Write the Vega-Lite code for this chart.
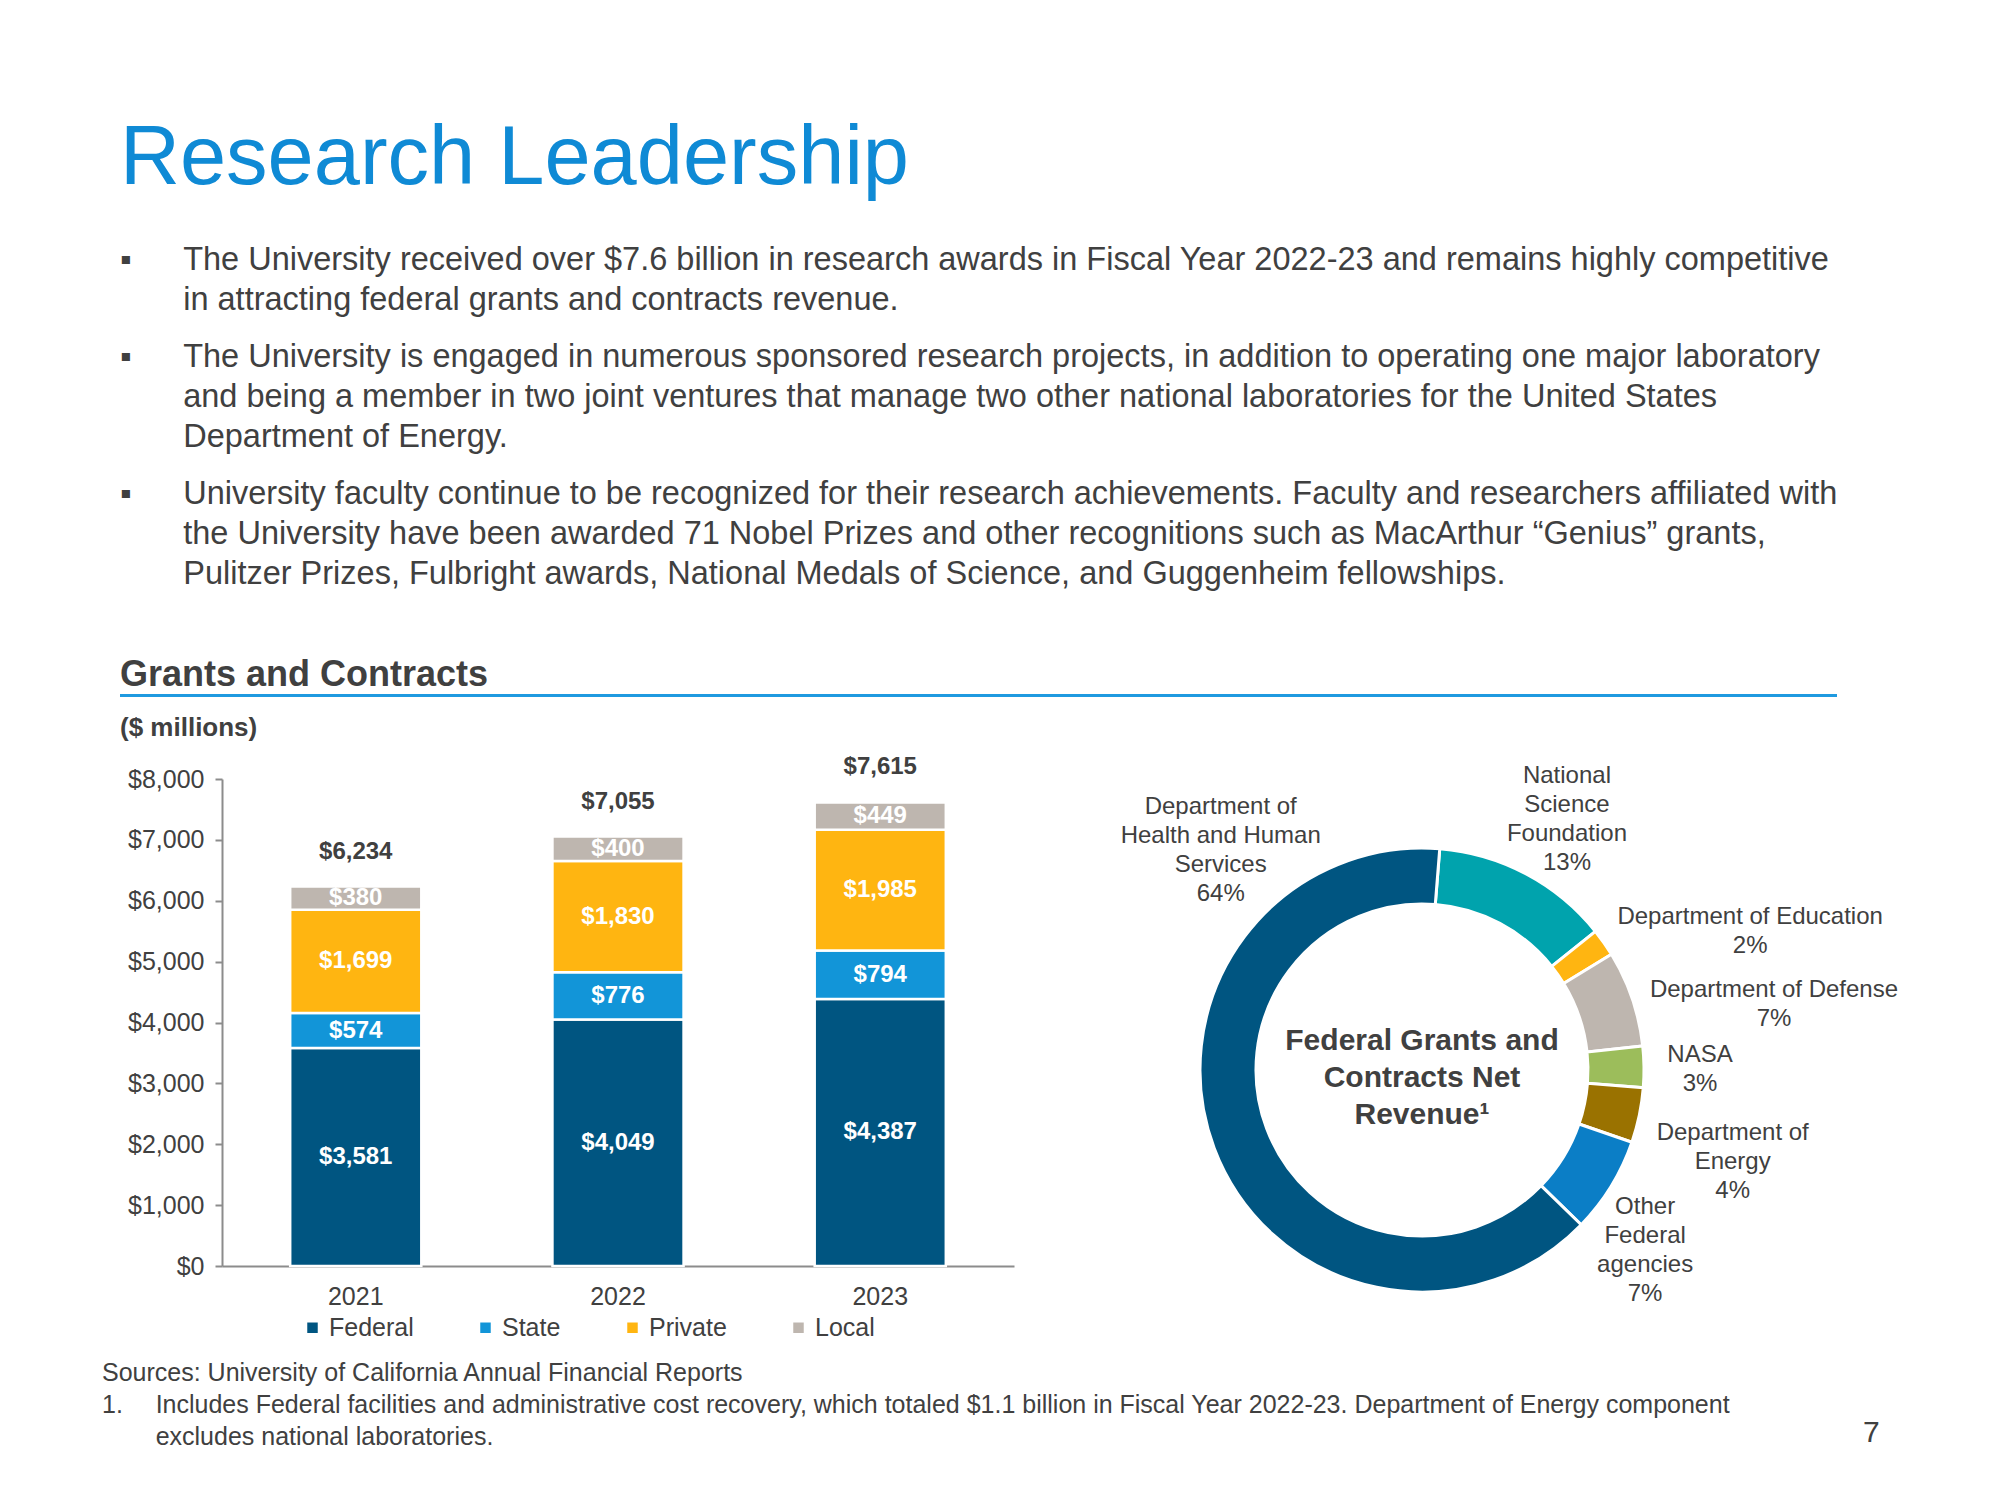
{
  "$schema": "https://vega.github.io/schema/vega-lite/v6.json",
  "background": "white",
  "padding": {"left": 102, "top": 117, "right": 10, "bottom": 10},
  "config": {
    "font": "Liberation Sans",
    "view": {"stroke": null}
  },
  "datasets": {
    "grants": [
      {"year": "2021", "source": "Federal", "value": 3581, "rank": 1},
      {"year": "2021", "source": "State", "value": 574, "rank": 2},
      {"year": "2021", "source": "Private", "value": 1699, "rank": 3},
      {"year": "2021", "source": "Local", "value": 380, "rank": 4},
      {"year": "2022", "source": "Federal", "value": 4049, "rank": 1},
      {"year": "2022", "source": "State", "value": 776, "rank": 2},
      {"year": "2022", "source": "Private", "value": 1830, "rank": 3},
      {"year": "2022", "source": "Local", "value": 400, "rank": 4},
      {"year": "2023", "source": "Federal", "value": 4387, "rank": 1},
      {"year": "2023", "source": "State", "value": 794, "rank": 2},
      {"year": "2023", "source": "Private", "value": 1985, "rank": 3},
      {"year": "2023", "source": "Local", "value": 449, "rank": 4}
    ],
    "federal": [
      {"agency": "National Science Foundation", "label": "National\nScience\nFoundation\n13%", "pct": 13, "rank": 1},
      {"agency": "Department of Education", "label": "Department of Education\n2%", "pct": 2, "rank": 2},
      {"agency": "Department of Defense", "label": "Department of Defense\n7%", "pct": 7, "rank": 3},
      {"agency": "NASA", "label": "NASA\n3%", "pct": 3, "rank": 4},
      {"agency": "Department of Energy", "label": "Department of\nEnergy\n4%", "pct": 4, "rank": 5},
      {"agency": "Other Federal agencies", "label": "Other\nFederal\nagencies\n7%", "pct": 7, "rank": 6},
      {"agency": "Department of Health and Human Services", "label": "Department of\nHealth and Human\nServices\n64%", "pct": 64, "rank": 7}
    ],
    "none": []
  },
  "title": {
    "text": "Research Leadership",
    "subtitle": [
      "▪\u00a0\u00a0\u00a0\u00a0\u00a0\u2009The University received over $7.6 billion in research awards in Fiscal Year 2022-23 and remains highly competitive",
      "\u200b\u00a0\u00a0\u00a0\u00a0\u00a0\u00a0\u00a0in attracting federal grants and contracts revenue."
    ],
    "anchor": "start",
    "frame": "bounds",
    "dx": 18,
    "baseline": "top",
    "fontSize": 83,
    "fontWeight": "normal",
    "color": "#0f8ad5",
    "subtitleFontSize": 32.5,
    "subtitleColor": "#404040",
    "subtitleLineHeight": 40,
    "subtitlePadding": 43,
    "offset": 25
  },
  "vconcat": [
    {
      "title": {
        "text": [
          "▪\u00a0\u00a0\u00a0\u00a0\u00a0\u2009The University is engaged in numerous sponsored research projects, in addition to operating one major laboratory",
          "\u200b\u00a0\u00a0\u00a0\u00a0\u00a0\u00a0\u00a0and being a member in two joint ventures that manage two other national laboratories for the United States",
          "\u200b\u00a0\u00a0\u00a0\u00a0\u00a0\u00a0\u00a0Department of Energy."
        ],
        "anchor": "start",
        "frame": "bounds",
        "dx": 18,
        "baseline": "top",
        "fontSize": 32.5,
        "fontWeight": "normal",
        "color": "#404040",
        "lineHeight": 40,
        "offset": 24
      },
      "vconcat": [
        {
          "title": {
            "text": [
              "▪\u00a0\u00a0\u00a0\u00a0\u00a0\u2009University faculty continue to be recognized for their research achievements. Faculty and researchers affiliated with",
              "\u200b\u00a0\u00a0\u00a0\u00a0\u00a0\u00a0\u00a0the University have been awarded 71 Nobel Prizes and other recognitions such as MacArthur “Genius” grants,",
              "\u200b\u00a0\u00a0\u00a0\u00a0\u00a0\u00a0\u00a0Pulitzer Prizes, Fulbright awards, National Medals of Science, and Guggenheim fellowships."
            ],
            "anchor": "start",
            "frame": "bounds",
            "dx": 18,
            "baseline": "top",
            "fontSize": 32.5,
            "fontWeight": "normal",
            "color": "#404040",
            "lineHeight": 40,
            "offset": 67
          },
          "spacing": 17,
          "vconcat": [
            {
              "spacing": 17,
              "hconcat": [
                {"width": 1, "height": 1, "data": {"name": "none"}, "mark": "point"},
                {
                  "width": 1717,
                  "height": 3,
                  "title": {
                    "text": "Grants and Contracts",
                    "anchor": "start",
                    "baseline": "alphabetic",
                    "fontSize": 36,
                    "fontWeight": "bold",
                    "color": "#404040",
                    "offset": -28
                  },
                  "view": {"fill": "#1f9ae0", "stroke": null},
                  "data": {"name": "none"},
                  "mark": "point"
                }
              ]
            },
            {
              "spacing": 20,
              "vconcat": [
                {
                  "spacing": 17,
                  "hconcat": [
                    {"width": 1, "height": 1, "data": {"name": "none"}, "mark": "point"},
                    {
                      "spacing": 25,
                      "resolve": {"scale": {"color": "independent"}, "legend": {"color": "independent"}},
                      "hconcat": [
                        {
                          "width": 792,
                          "height": 487,
                          "title": {
                            "text": "($ millions)",
                            "anchor": "start",
                            "frame": "bounds",
                            "baseline": "alphabetic",
                            "fontSize": 26,
                            "fontWeight": "bold",
                            "color": "#404040",
                            "offset": -6.5
                          },
                          "data": {"name": "grants"},
                          "encoding": {
                            "x": {
                              "field": "year",
                              "type": "ordinal",
                              "scale": {"paddingInner": 0.5, "paddingOuter": 0.26},
                              "axis": {
                                "title": null,
                                "labelAngle": 0,
                                "ticks": false,
                                "domainColor": "#8c8c8c",
                                "domainWidth": 2,
                                "labelFontSize": 25,
                                "labelColor": "#404040",
                                "labelPadding": 18
                              }
                            }
                          },
                          "layer": [
                            {
                              "mark": {"type": "bar", "stroke": "white", "strokeWidth": 2.5},
                              "encoding": {
                                "y": {
                                  "field": "value",
                                  "type": "quantitative",
                                  "stack": "zero",
                                  "scale": {"domain": [0, 8000]},
                                  "axis": {
                                    "title": null,
                                    "values": [0, 1000, 2000, 3000, 4000, 5000, 6000, 7000, 8000],
                                    "format": "$,d",
                                    "grid": false,
                                    "domainColor": "#8c8c8c",
                                    "domainWidth": 2,
                                    "tickColor": "#8c8c8c",
                                    "tickWidth": 2,
                                    "tickSize": 7,
                                    "labelFontSize": 25,
                                    "labelColor": "#404040",
                                    "labelPadding": 11,
                                    "minExtent": 102
                                  }
                                },
                                "color": {
                                  "field": "source",
                                  "type": "nominal",
                                  "scale": {
                                    "domain": ["Federal", "State", "Private", "Local"],
                                    "range": ["#005581", "#1295d8", "#ffb511", "#beb6af"]
                                  },
                                  "legend": {
                                    "orient": "none",
                                    "legendX": 78,
                                    "legendY": 536,
                                    "direction": "horizontal",
                                    "title": null,
                                    "symbolType": "square",
                                    "symbolSize": 110,
                                    "symbolStrokeWidth": 0,
                                    "labelFontSize": 25,
                                    "labelColor": "#404040",
                                    "columnPadding": 59
                                  }
                                },
                                "order": {"field": "rank", "type": "quantitative"}
                              }
                            },
                            {
                              "mark": {"type": "text", "color": "white", "fontWeight": "bold", "fontSize": 24, "baseline": "middle"},
                              "encoding": {
                                "y": {"field": "value", "type": "quantitative", "stack": "zero", "bandPosition": 0.5},
                                "detail": {"field": "source"},
                                "order": {"field": "rank", "type": "quantitative"},
                                "text": {"field": "value", "type": "quantitative", "format": "$,d"}
                              }
                            },
                            {
                              "mark": {"type": "text", "color": "#404040", "fontWeight": "bold", "fontSize": 24, "baseline": "middle", "dy": -35},
                              "encoding": {
                                "y": {"aggregate": "sum", "field": "value", "type": "quantitative"},
                                "text": {"aggregate": "sum", "field": "value", "type": "quantitative", "format": "$,d"}
                              }
                            }
                          ]
                        },
                        {
                          "width": 766,
                          "height": 540,
                          "data": {"name": "federal"},
                          "layer": [
                            {
                              "mark": {"type": "arc", "innerRadius": 166, "outerRadius": 222, "stroke": "white", "strokeWidth": 3, "yOffset": 21},
                              "encoding": {
                                "theta": {"field": "pct", "type": "quantitative", "stack": true, "scale": {"range": [0.08, 6.3632]}},
                                "order": {"field": "rank", "type": "quantitative"},
                                "color": {
                                  "field": "agency",
                                  "type": "nominal",
                                  "scale": {
                                    "domain": ["National Science Foundation", "Department of Education", "Department of Defense", "NASA", "Department of Energy", "Other Federal agencies", "Department of Health and Human Services"],
                                    "range": ["#00a3ad", "#ffb511", "#beb6af", "#9cbd5b", "#9a7200", "#0b7ec6", "#005581"]
                                  },
                                  "legend": null
                                }
                              }
                            },
                            {
                              "mark": {"type": "text", "radius": 289, "thetaOffset": 0.037, "yOffset": 21, "dy": -43.5, "fontSize": 24, "color": "#404040", "lineBreak": "\n", "lineHeight": 29, "align": "center", "baseline": "middle"},
                              "encoding": {
                                "theta": {"field": "pct", "type": "quantitative", "stack": true, "scale": {"range": [0.08, 6.3632]}},
                                "order": {"field": "rank", "type": "quantitative"},
                                "text": {"field": "label", "type": "nominal", "condition": {"test": "datum.rank !== 1", "value": ""}}
                              }
                            },
                            {
                              "mark": {"type": "text", "radius": 356, "thetaOffset": 0.213, "yOffset": 21, "dy": -14.5, "fontSize": 24, "color": "#404040", "lineBreak": "\n", "lineHeight": 29, "align": "center", "baseline": "middle"},
                              "encoding": {
                                "theta": {"field": "pct", "type": "quantitative", "stack": true, "scale": {"range": [0.08, 6.3632]}},
                                "order": {"field": "rank", "type": "quantitative"},
                                "text": {"field": "label", "type": "nominal", "condition": {"test": "datum.rank !== 2", "value": ""}}
                              }
                            },
                            {
                              "mark": {"type": "text", "radius": 358, "thetaOffset": 0.145, "yOffset": 21, "dy": -14.5, "fontSize": 24, "color": "#404040", "lineBreak": "\n", "lineHeight": 29, "align": "center", "baseline": "middle"},
                              "encoding": {
                                "theta": {"field": "pct", "type": "quantitative", "stack": true, "scale": {"range": [0.08, 6.3632]}},
                                "order": {"field": "rank", "type": "quantitative"},
                                "text": {"field": "label", "type": "nominal", "condition": {"test": "datum.rank !== 3", "value": ""}}
                              }
                            },
                            {
                              "mark": {"type": "text", "radius": 278, "thetaOffset": 0.014, "yOffset": 21, "dy": -14.5, "fontSize": 24, "color": "#404040", "lineBreak": "\n", "lineHeight": 29, "align": "center", "baseline": "middle"},
                              "encoding": {
                                "theta": {"field": "pct", "type": "quantitative", "stack": true, "scale": {"range": [0.08, 6.3632]}},
                                "order": {"field": "rank", "type": "quantitative"},
                                "text": {"field": "label", "type": "nominal", "condition": {"test": "datum.rank !== 4", "value": ""}}
                              }
                            },
                            {
                              "mark": {"type": "text", "radius": 324, "thetaOffset": 0.082, "yOffset": 21, "dy": -29, "fontSize": 24, "color": "#404040", "lineBreak": "\n", "lineHeight": 29, "align": "center", "baseline": "middle"},
                              "encoding": {
                                "theta": {"field": "pct", "type": "quantitative", "stack": true, "scale": {"range": [0.08, 6.3632]}},
                                "order": {"field": "rank", "type": "quantitative"},
                                "text": {"field": "label", "type": "nominal", "condition": {"test": "datum.rank !== 5", "value": ""}}
                              }
                            },
                            {
                              "mark": {"type": "text", "radius": 287, "thetaOffset": 0.129, "yOffset": 21, "dy": -43.5, "fontSize": 24, "color": "#404040", "lineBreak": "\n", "lineHeight": 29, "align": "center", "baseline": "middle"},
                              "encoding": {
                                "theta": {"field": "pct", "type": "quantitative", "stack": true, "scale": {"range": [0.08, 6.3632]}},
                                "order": {"field": "rank", "type": "quantitative"},
                                "text": {"field": "label", "type": "nominal", "condition": {"test": "datum.rank !== 6", "value": ""}}
                              }
                            },
                            {
                              "mark": {"type": "text", "radius": 298, "thetaOffset": 1.189, "yOffset": 21, "dy": -43.5, "fontSize": 24, "color": "#404040", "lineBreak": "\n", "lineHeight": 29, "align": "center", "baseline": "middle"},
                              "encoding": {
                                "theta": {"field": "pct", "type": "quantitative", "stack": true, "scale": {"range": [0.08, 6.3632]}},
                                "order": {"field": "rank", "type": "quantitative"},
                                "text": {"field": "label", "type": "nominal", "condition": {"test": "datum.rank !== 7", "value": ""}}
                              }
                            },
                            {
                              "data": {"values": [{"caption": "Federal Grants and\nContracts Net\nRevenue¹"}]},
                              "mark": {"type": "text", "yOffset": -8, "fontSize": 30, "fontWeight": "bold", "color": "#404040", "lineBreak": "\n", "lineHeight": 37, "align": "center", "baseline": "middle"},
                              "encoding": {
                                "text": {"field": "caption", "type": "nominal"}
                              }
                            }
                          ]
                        }
                      ]
                    }
                  ]
                },
                {
                  "spacing": 132,
                  "hconcat": [
                    {
                      "width": 1500,
                      "height": 1,
                      "title": {
                        "text": [
                          "Sources: University of California Annual Financial Reports",
                          "1.\u00a0\u00a0\u00a0\u00a0\u2009Includes Federal facilities and administrative cost recovery, which totaled $1.1 billion in Fiscal Year 2022-23. Department of Energy component",
                          "\u200b\u00a0\u00a0\u00a0\u00a0\u00a0\u00a0\u00a0\u2009excludes national laboratories."
                        ],
                        "anchor": "start",
                        "baseline": "top",
                        "fontSize": 25,
                        "fontWeight": "normal",
                        "color": "#404040",
                        "lineHeight": 32,
                        "offset": 0
                      },
                      "data": {"name": "none"},
                      "mark": "point"
                    },
                    {
                      "width": 1,
                      "height": 1,
                      "title": {
                        "text": "7",
                        "orient": "bottom",
                        "anchor": "start",
                        "baseline": "top",
                        "fontSize": 30,
                        "fontWeight": "normal",
                        "color": "#404040",
                        "offset": -33
                      },
                      "data": {"name": "none"},
                      "mark": "point"
                    }
                  ]
                }
              ]
            }
          ]
        }
      ]
    }
  ]
}
